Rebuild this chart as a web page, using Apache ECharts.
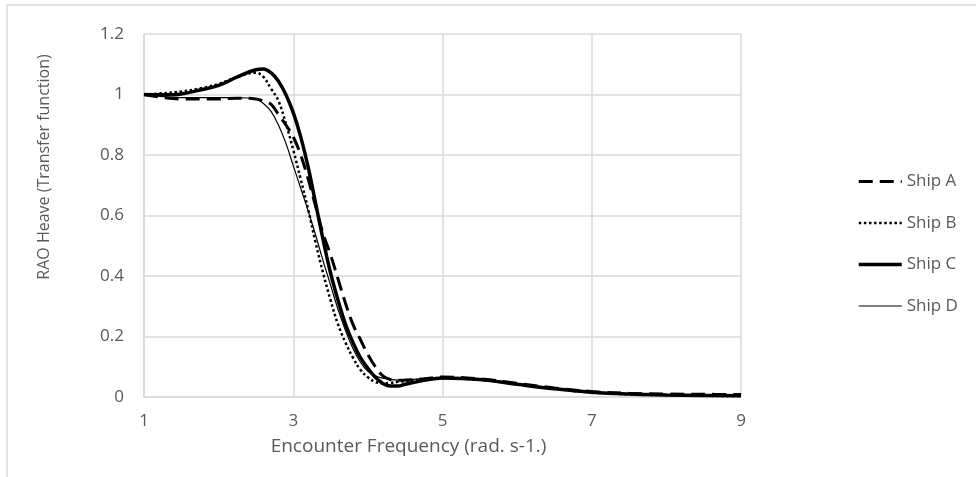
<!DOCTYPE html>
<html>
<head>
<meta charset="utf-8">
<script src="https://cdn.jsdelivr.net/npm/echarts@6/dist/echarts.min.js"></script>
<style>
  html, body { margin: 0; padding: 0; background: #fff; }
  #chart { width: 976px; height: 477px; }
</style>
</head>
<body>
<div id="chart"></div>
<script>
// encounter frequency (rad/s) sampled along the curves
const freq = [1, 1.25, 1.5, 1.75, 2, 2.25, 2.5, 2.6, 2.7, 2.8, 2.9, 3.0, 3.1, 3.2, 3.3, 3.4, 3.5, 3.6, 3.7, 3.8, 3.9, 4.0, 4.1, 4.2, 4.3, 4.4, 4.5, 4.75, 5, 5.5, 6, 6.5, 7, 7.5, 8, 8.5, 9];

const shipA = [1.0, 0.99, 0.985, 0.985, 0.985, 0.988, 0.985, 0.978, 0.968, 0.935, 0.9, 0.86, 0.8, 0.72, 0.63, 0.54, 0.47, 0.39, 0.31, 0.24, 0.19, 0.14, 0.1, 0.07, 0.058, 0.055, 0.056, 0.06, 0.066, 0.06, 0.045, 0.03, 0.018, 0.012, 0.01, 0.009, 0.008];
const shipB = [1.0, 1.004, 1.01, 1.02, 1.035, 1.058, 1.072, 1.058, 1.02, 0.98, 0.905, 0.817, 0.72, 0.62, 0.51, 0.41, 0.32, 0.24, 0.18, 0.13, 0.09, 0.065, 0.05, 0.045, 0.047, 0.05, 0.053, 0.058, 0.062, 0.057, 0.042, 0.027, 0.015, 0.009, 0.006, 0.004, 0.003];
const shipC = [1.0, 0.999, 1.002, 1.015, 1.03, 1.058, 1.082, 1.084, 1.072, 1.045, 1.0, 0.94, 0.86, 0.76, 0.64, 0.52, 0.41, 0.32, 0.24, 0.18, 0.13, 0.095, 0.065, 0.045, 0.036, 0.036, 0.042, 0.055, 0.063, 0.058, 0.042, 0.027, 0.016, 0.01, 0.007, 0.005, 0.004];
const shipD = [1.0, 0.993, 0.99, 0.99, 0.99, 0.99, 0.985, 0.97, 0.945, 0.9, 0.84, 0.765, 0.69, 0.615, 0.535, 0.45, 0.37, 0.29, 0.22, 0.16, 0.115, 0.085, 0.07, 0.062, 0.058, 0.056, 0.057, 0.06, 0.062, 0.057, 0.042, 0.027, 0.015, 0.009, 0.006, 0.004, 0.003];

const shipNames = ['Ship A', 'Ship B', 'Ship C', 'Ship D'];
const xTicks = [1, 3, 5, 7, 9];
const yTicks = [0, 0.2, 0.4, 0.6, 0.8, 1, 1.2];

const FONT = '"Open Sans", "Noto Sans", sans-serif';
const GREY_TEXT = '#595959';
const GRID_LINE = '#d9d9d9';

function pairs(vals) {
  return freq.map((f, i) => [f, vals[i]]);
}

const chart = echarts.init(document.getElementById('chart'));

const lineStyles = [
  { color: '#000', width: 3, type: [14, 7] },
  { color: '#000', width: 2.5, type: [2.5, 2.6] },
  { color: '#000', width: 3.5, type: 'solid' },
  { color: '#000', width: 1.2, type: 'solid' }
];
const values = [shipA, shipB, shipC, shipD];

const option = {
  backgroundColor: '#fff',
  animation: false,
  textStyle: { fontFamily: FONT },
  graphic: [
    {
      type: 'rect',
      shape: { x: 7, y: 5, width: 1200, height: 1200 },
      style: { fill: 'none', stroke: GRID_LINE, lineWidth: 1.5 },
      silent: true
    },
    {
      type: 'text',
      x: 44,
      y: 167,
      rotation: Math.PI / 2,
      style: {
        text: 'RAO Heave (Transfer function)',
        fill: GREY_TEXT,
        font: '16px ' + FONT,
        align: 'center',
        verticalAlign: 'middle'
      }
    }
  ],
  legend: {
    data: shipNames.map((n, i) => ({
      name: n,
      lineStyle: { width: lineStyles[i].width, type: lineStyles[i].type, color: '#000' }
    })),
    orient: 'vertical',
    left: 852,
    top: 168,
    itemWidth: 43,
    itemHeight: 14,
    itemGap: 24.5,
    itemStyle: { opacity: 0 },
    textStyle: { color: GREY_TEXT, fontSize: 17, fontFamily: FONT }
  },
  grid: {
    left: 144,
    right: 235,
    top: 34,
    bottom: 80
  },
  xAxis: {
    type: 'value',
    min: 1,
    max: 9,
    interval: 2,
    name: 'Encounter Frequency (rad. s-1.)',
    nameLocation: 'middle',
    nameGap: 40,
    nameTextStyle: { color: GREY_TEXT, fontSize: 19, fontFamily: FONT, padding: [0, 68, 0, 0] },
    axisLine: { show: true, lineStyle: { color: GRID_LINE, width: 1.5 } },
    axisTick: { show: false },
    axisLabel: {
      color: GREY_TEXT,
      fontSize: 17,
      margin: 16,
      formatter: v => xTicks.includes(v) ? String(v) : ''
    },
    splitLine: { show: true, lineStyle: { color: GRID_LINE, width: 1.5 } }
  },
  yAxis: {
    type: 'value',
    min: 0,
    max: 1.2,
    interval: 0.2,
    axisLine: { show: true, lineStyle: { color: GRID_LINE, width: 1.5 } },
    axisTick: { show: false },
    axisLabel: {
      color: GREY_TEXT,
      fontSize: 17,
      margin: 20,
      formatter: v => {
        const t = yTicks.find(y => Math.abs(y - v) < 1e-6);
        return t === undefined ? '' : String(t);
      }
    },
    splitLine: { show: true, lineStyle: { color: GRID_LINE, width: 1.5 } }
  },
  series: shipNames.map((name, i) => ({
    name: name,
    type: 'line',
    smooth: 0.4,
    symbol: 'none',
    data: pairs(values[i]),
    itemStyle: { color: '#000' },
    lineStyle: lineStyles[i],
    z: 10 - i
  }))
};

chart.setOption(option);
</script>
</body>
</html>
